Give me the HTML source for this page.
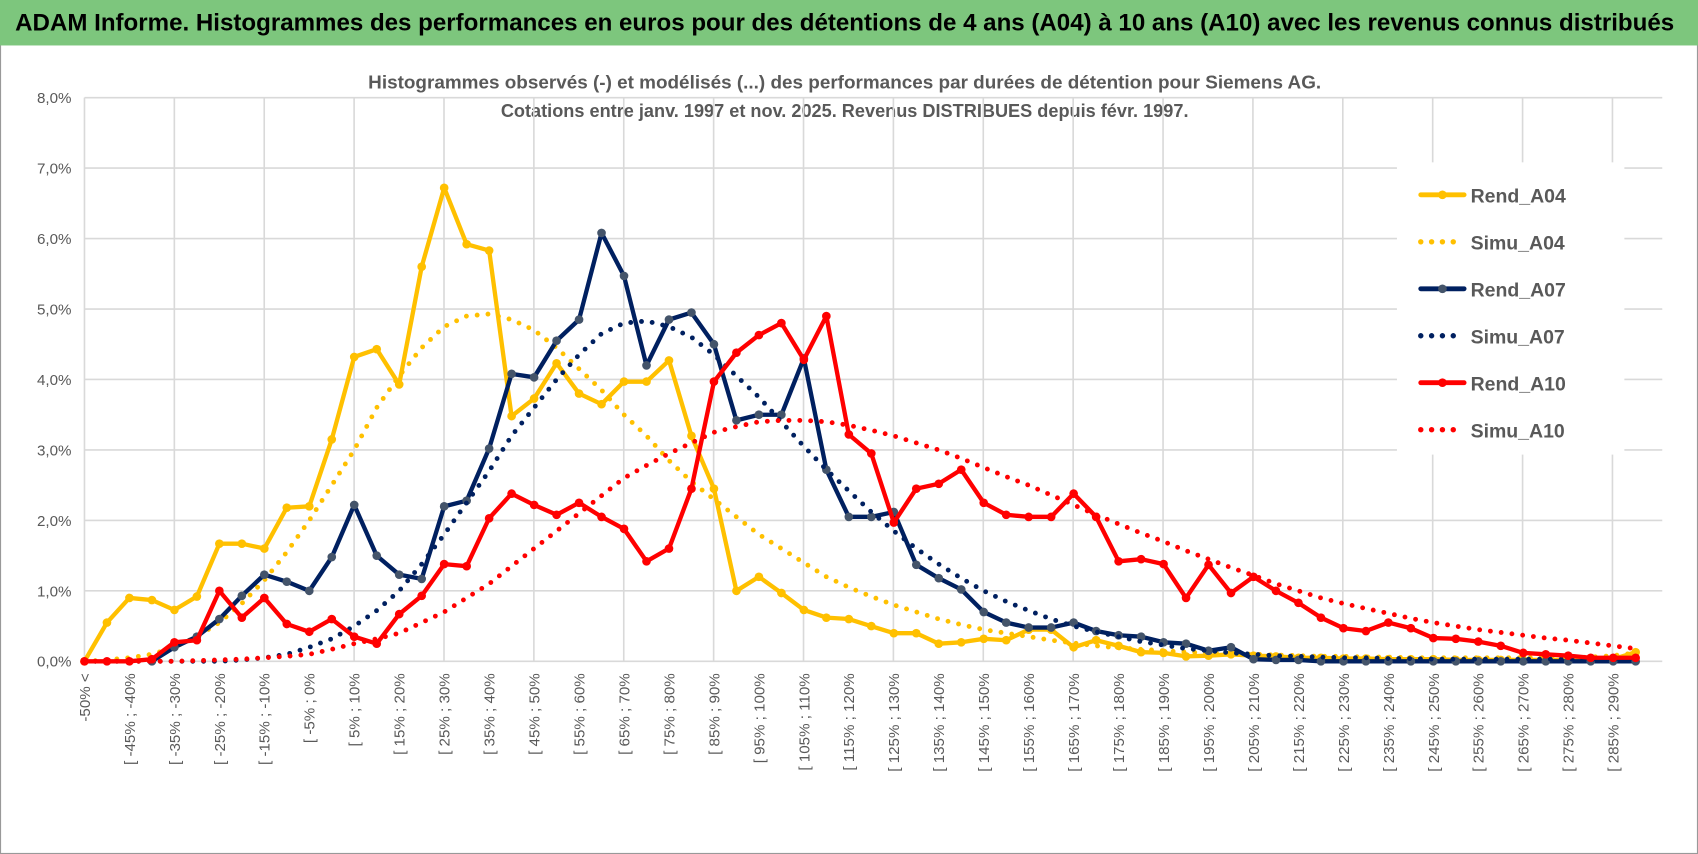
<!DOCTYPE html>
<html><head><meta charset="utf-8"><style>
html,body{margin:0;padding:0;background:#fff;}
svg{display:block;font-family:"Liberation Sans",sans-serif;}
</style></head><body>
<svg id="chart" width="1698" height="854" viewBox="0 0 1568 789" preserveAspectRatio="none">
<rect x="0.5" y="0.5" width="1567" height="788" fill="#fff" stroke="#999"/>
<rect x="0" y="0" width="1568" height="42" fill="#7dc67d"/>
<text x="14" y="28" font-size="22" font-weight="bold" fill="#000" textLength="1532" lengthAdjust="spacingAndGlyphs">ADAM Informe. Histogrammes des performances en euros pour des détentions de 4 ans (A04) à 10 ans (A10) avec les revenus connus distribués</text>
<text x="780" y="82" text-anchor="middle" font-size="17" font-weight="bold" fill="#595959" textLength="880" lengthAdjust="spacingAndGlyphs">Histogrammes observés (-) et modélisés (...) des performances par durées de détention pour Siemens AG.</text>
<text x="780" y="108" text-anchor="middle" font-size="17" font-weight="bold" fill="#595959" textLength="635" lengthAdjust="spacingAndGlyphs">Cotations entre janv. 1997 et nov. 2025. Revenus DISTRIBUES depuis févr. 1997.</text>
<g id="grid"></g><g id="yaxis"></g><g id="xaxis"></g><g id="series"></g>
<g id="legend"></g>
</svg>
<script>
const categories = ["-50% <"];
for (let k = 1; k <= 69; k++) { categories.push("[ " + (-55 + 5*k) + "% ; " + (-50 + 5*k) + "%"); }
const yTicks = [0,1,2,3,4,5,6,7,8];
const rendA04 = [0,0.55,0.9,0.87,0.73,0.92,1.67,1.67,1.6,2.18,2.2,3.15,4.32,4.43,3.93,5.6,6.72,5.92,5.83,3.48,3.73,4.23,3.8,3.65,3.97,3.97,4.27,3.2,2.45,1.0,1.2,0.97,0.73,0.62,0.6,0.5,0.4,0.4,0.25,0.27,0.32,0.3,0.45,0.45,0.2,0.3,0.22,0.13,0.12,0.07,0.08,0.1,0.08,0.07,0.05,0.05,0.04,0.04,0.03,0.03,0.03,0.02,0.02,0.02,0.02,0.02,0.02,0.02,0.03,0.13];
const simuA04 = [0,0.02,0.05,0.1,0.2,0.35,0.55,0.82,1.15,1.55,2.0,2.5,3.0,3.6,4.05,4.45,4.75,4.9,4.93,4.85,4.7,4.45,4.15,3.85,3.5,3.2,2.85,2.55,2.3,2.05,1.8,1.6,1.4,1.2,1.05,0.92,0.8,0.7,0.6,0.52,0.45,0.4,0.35,0.3,0.26,0.22,0.19,0.17,0.15,0.13,0.12,0.11,0.1,0.09,0.08,0.07,0.07,0.06,0.06,0.05,0.05,0.05,0.05,0.05,0.05,0.05,0.05,0.06,0.08,0.12];
const rendA07 = [null,null,null,0,0.2,0.35,0.6,0.93,1.23,1.13,1.0,1.48,2.22,1.5,1.23,1.17,2.2,2.28,3.02,4.08,4.03,4.55,4.85,6.08,5.47,4.2,4.85,4.95,4.5,3.42,3.5,3.5,4.3,2.72,2.05,2.05,2.12,1.37,1.18,1.02,0.7,0.55,0.48,0.48,0.55,0.43,0.37,0.35,0.27,0.25,0.15,0.2,0.03,0.02,0.02,0,0,0,0,0,0,0,0,0,0,0,0,0,0,0];
const simuA07 = [0,0,0,0,0,0,0,0.02,0.05,0.1,0.2,0.32,0.5,0.72,1.0,1.38,1.8,2.25,2.7,3.2,3.6,4.0,4.35,4.65,4.8,4.83,4.75,4.6,4.35,4.05,3.75,3.4,3.05,2.72,2.42,2.12,1.85,1.6,1.38,1.18,1.0,0.85,0.72,0.6,0.5,0.42,0.35,0.28,0.23,0.18,0.15,0.12,0.1,0.08,0.07,0.06,0.05,0.05,0.04,0.04,0.03,0.03,0.03,0.03,0.03,0.03,0.03,0.03,0.03,0.03];
const rendA10 = [0,0,0,0.03,0.27,0.3,1.0,0.62,0.9,0.53,0.42,0.6,0.35,0.25,0.67,0.93,1.38,1.35,2.03,2.38,2.22,2.08,2.25,2.05,1.88,1.42,1.6,2.45,3.97,4.38,4.63,4.8,4.28,4.9,3.22,2.95,1.97,2.45,2.52,2.72,2.25,2.08,2.05,2.05,2.38,2.05,1.42,1.45,1.38,0.9,1.37,0.97,1.2,1.0,0.83,0.62,0.47,0.43,0.55,0.47,0.33,0.32,0.28,0.22,0.12,0.1,0.08,0.05,0.05,0.05];
const simuA10 = [0,0,0,0,0,0.01,0.02,0.03,0.05,0.07,0.1,0.17,0.25,0.32,0.4,0.55,0.7,0.9,1.1,1.35,1.6,1.85,2.1,2.35,2.6,2.78,2.95,3.1,3.25,3.33,3.4,3.42,3.42,3.4,3.35,3.28,3.2,3.1,3.0,2.88,2.75,2.62,2.5,2.36,2.22,2.08,1.95,1.82,1.7,1.57,1.45,1.33,1.22,1.1,1.0,0.9,0.82,0.75,0.68,0.61,0.55,0.5,0.45,0.41,0.37,0.33,0.3,0.26,0.22,0.18];
const seriesList = [
 {name:"Rend_A04", data:rendA04, color:"#ffc000", dotted:false, marker:"#ffc000"},
 {name:"Simu_A04", data:simuA04, color:"#ffc000", dotted:true},
 {name:"Rend_A07", data:rendA07, color:"#002060", dotted:false, marker:"#44546a"},
 {name:"Simu_A07", data:simuA07, color:"#002060", dotted:true},
 {name:"Rend_A10", data:rendA10, color:"#ff0000", dotted:false, marker:"#ff0000"},
 {name:"Simu_A10", data:simuA10, color:"#ff0000", dotted:true}
];
const NS = "http://www.w3.org/2000/svg";
const X0 = 78, DX = 20.76, Y0 = 611, PY = 65.1;
function xs(i){ return X0 + i*DX; }
function ys(v){ return Y0 - v*PY; }
function mk(tag, attrs, parent){ const e=document.createElementNS(NS,tag); for(const k in attrs) e.setAttribute(k,attrs[k]); parent.appendChild(e); return e; }
const grid=document.getElementById('grid'), yax=document.getElementById('yaxis'), xax=document.getElementById('xaxis'), ser=document.getElementById('series'), leg=document.getElementById('legend');
for (let gx = 78; gx < 1540; gx += 83) {
  const l = mk('line',{x1:gx,x2:gx,y1:ys(8),y2:Y0,stroke:'#d9d9d9','stroke-width':1.5},grid);
  
  
}
yTicks.forEach(t=>{
  const l = mk('line',{x1:X0,x2:1535,y1:ys(t),y2:ys(t),stroke:'#d9d9d9','stroke-width':1.5},grid);
  
  
  const tx = mk('text',{x:66,y:ys(t)+5,'text-anchor':'end','font-size':14,fill:'#595959'},yax);
  tx.textContent = t.toFixed(1).replace('.',',')+'%';
  
  
});
categories.forEach((c,i)=>{
  if (i%2) return;
  const tx = mk('text',{x:0,y:0,'text-anchor':'end','font-size':14,fill:'#595959',transform:`translate(${xs(i)+5},622) rotate(-90)`},xax);
  tx.textContent = c;
  
  
});
const lb = mk('rect',{x:1290,y:150,width:210,height:270,fill:'#fff'},leg);


seriesList.forEach((s,si)=>{
  let d=''; let started=false;
  s.data.forEach((v,i)=>{ if(v===null){started=false;return;} d += (started?'L':'M')+xs(i).toFixed(1)+' '+ys(v).toFixed(1)+' '; started=true; });
  const p = mk('path',{d:d,fill:'none',stroke:s.color,'stroke-width':s.dotted?4.5:4,'stroke-linejoin':'round','stroke-linecap':'round'},ser);
  if (s.dotted) p.setAttribute('stroke-dasharray','0 10');
  
  
  if (!s.dotted) s.data.forEach((v,i)=>{
    if(v===null) return;
    const c = mk('circle',{cx:xs(i),cy:ys(v),r:4,fill:s.marker},ser);
    
    
  });
  const ly = 180 + si*43.4;
  const ll = mk('line',{x1:1312,x2:1352,y1:ly,y2:ly,stroke:s.color,'stroke-width':s.dotted?5:4.5,'stroke-linecap':'round'},leg);
  if (s.dotted) ll.setAttribute('stroke-dasharray','0 10');
  
  
  if (!s.dotted) { const lc = mk('circle',{cx:1332,cy:ly,r:4,fill:s.marker},leg);
    
     }
  const lt = mk('text',{x:1358,y:ly+7,'font-size':18,'font-weight':'bold',fill:'#595959'},leg);
  lt.textContent = s.name;
  
  
});
</script>
</body></html>
